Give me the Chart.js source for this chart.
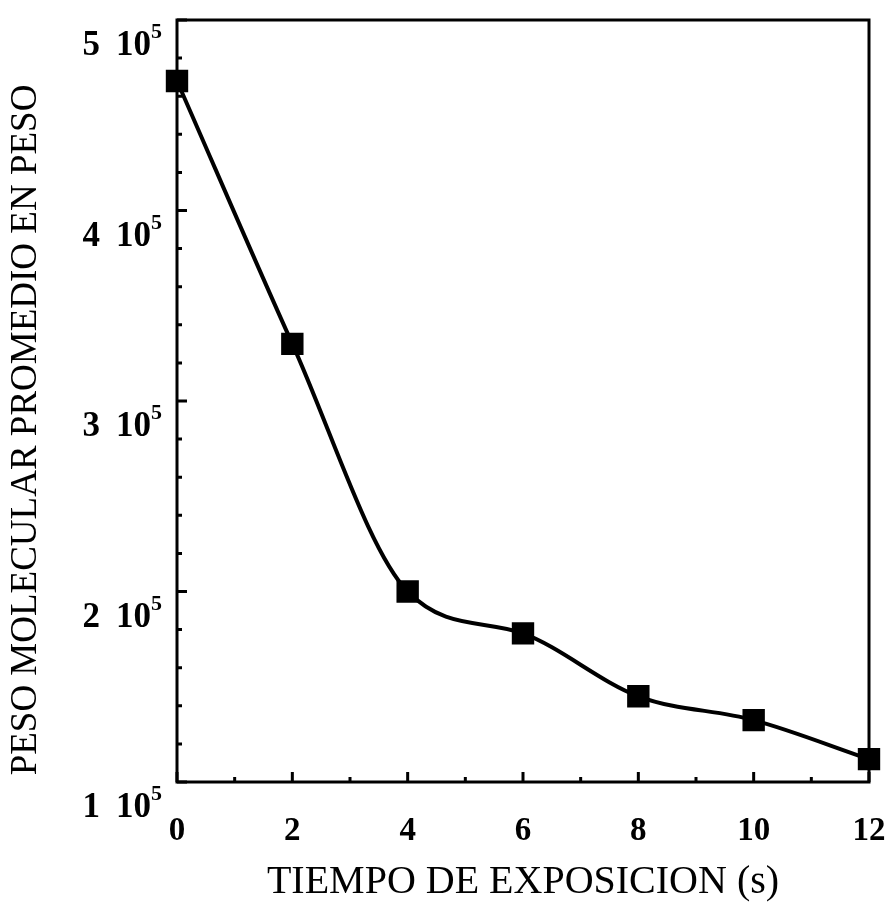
<!DOCTYPE html>
<html>
<head>
<meta charset="utf-8">
<script src="https://cdn.jsdelivr.net/npm/chart.js@4"></script>
<style>
  body { margin: 0; background: #fff; }
  #wrap { width: 888px; height: 912px; }
</style>
</head>
<body>
<div id="wrap"><canvas id="pesoChart" width="888" height="912"></canvas></div>
<script>
// tiempo de exposicion (s) y peso molecular promedio en peso
const tiempos = [0, 2, 4, 6, 8, 10, 12];
const pesoMolecular = [468000, 330000, 200000, 178000, 145000, 132500, 112000];
const yTicks = [1, 2, 3, 4, 5];           // en unidades de 10^5
const xTickStep = 2;
const yTitulo = 'PESO MOLECULAR PROMEDIO EN PESO';

const serif = '"Liberation Serif", "Times New Roman", serif';

// marco, marcas hacia dentro, etiquetas del eje Y con exponente
const marco = {
  id: 'marco',
  beforeDatasetsDraw(chart) {
    const { ctx, chartArea: a, scales: { x, y } } = chart;
    ctx.save();
    ctx.strokeStyle = '#000';
    ctx.lineWidth = 3;
    ctx.strokeRect(a.left, a.top, a.right - a.left, a.bottom - a.top);

    ctx.beginPath();
    for (let t = x.min; t <= x.max; t += 1) {
      const px = x.getPixelForValue(t);
      const len = (t % xTickStep === 0) ? 10 : 5;
      ctx.moveTo(px, a.bottom);
      ctx.lineTo(px, a.bottom - len);
    }
    for (let i = 0; i <= 20; i++) {
      const v = y.min + i * 20000;
      const py = y.getPixelForValue(v);
      const len = (i % 5 === 0) ? 10 : 5;
      ctx.moveTo(a.left, py);
      ctx.lineTo(a.left + len, py);
    }
    ctx.stroke();
    ctx.restore();
  },
  afterDraw(chart) {
    const { ctx, chartArea: a, scales: { y } } = chart;
    ctx.save();
    ctx.fillStyle = '#000';
    ctx.textBaseline = 'alphabetic';
    yTicks.forEach(n => {
      const base = y.getPixelForValue(n * 100000) + 35;
      ctx.font = 'bold 35px ' + serif;
      ctx.textAlign = 'right';
      ctx.fillText(String(n), 100, base);
      ctx.fillText('10', 151, base);
      ctx.font = 'bold 22px ' + serif;
      ctx.textAlign = 'left';
      ctx.fillText('5', 151, base - 17);
    });

    // titulo del eje Y (algo desplazado hacia abajo, como en el original)
    ctx.translate(26, (a.top + a.bottom) / 2 + 29);
    ctx.rotate(-Math.PI / 2);
    ctx.font = '37px ' + serif;
    ctx.textAlign = 'center';
    ctx.textBaseline = 'middle';
    ctx.fillText(yTitulo, 0, 0);
    ctx.restore();
  }
};

const ctx = document.getElementById('pesoChart').getContext('2d');
const pesoChart = new Chart(ctx, {
  type: 'line',
  data: {
    datasets: [{
      label: 'Mw',
      data: tiempos.map((t, i) => ({ x: t, y: pesoMolecular[i] })),
      borderColor: '#000',
      backgroundColor: '#000',
      borderWidth: 4,
      cubicInterpolationMode: 'monotone',
      pointStyle: 'rect',
      pointRadius: 13,
      pointHoverRadius: 13,
      clip: false
    }]
  },
  plugins: [marco],
  options: {
    responsive: false,
    animation: false,
    layout: { padding: { top: 20, right: 19, left: 0, bottom: 0 } },
    plugins: { legend: { display: false }, tooltip: { enabled: false } },
    scales: {
      x: {
        type: 'linear',
        min: 0,
        max: 12,
        afterFit: s => { s.height = 130; s.paddingLeft = 0; s.paddingRight = 0; },
        grid: { display: false, drawTicks: false },
        border: { display: false },
        ticks: {
          stepSize: xTickStep,
          padding: 30,
          color: '#000',
          font: { family: serif, size: 33, weight: 'bold' }
        },
        title: {
          display: true,
          text: 'TIEMPO DE EXPOSICION (s)',
          color: '#000',
          font: { family: serif, size: 40 },
          padding: { top: 0, bottom: 6 }
        }
      },
      y: {
        type: 'linear',
        min: 100000,
        max: 500000,
        afterFit: s => { s.width = 177; s.paddingTop = 0; s.paddingBottom = 0; },
        grid: { display: false, drawTicks: false },
        border: { display: false },
        ticks: { display: false, stepSize: 100000 },
        title: { display: false }
      }
    }
  }
});
</script>
</body>
</html>
